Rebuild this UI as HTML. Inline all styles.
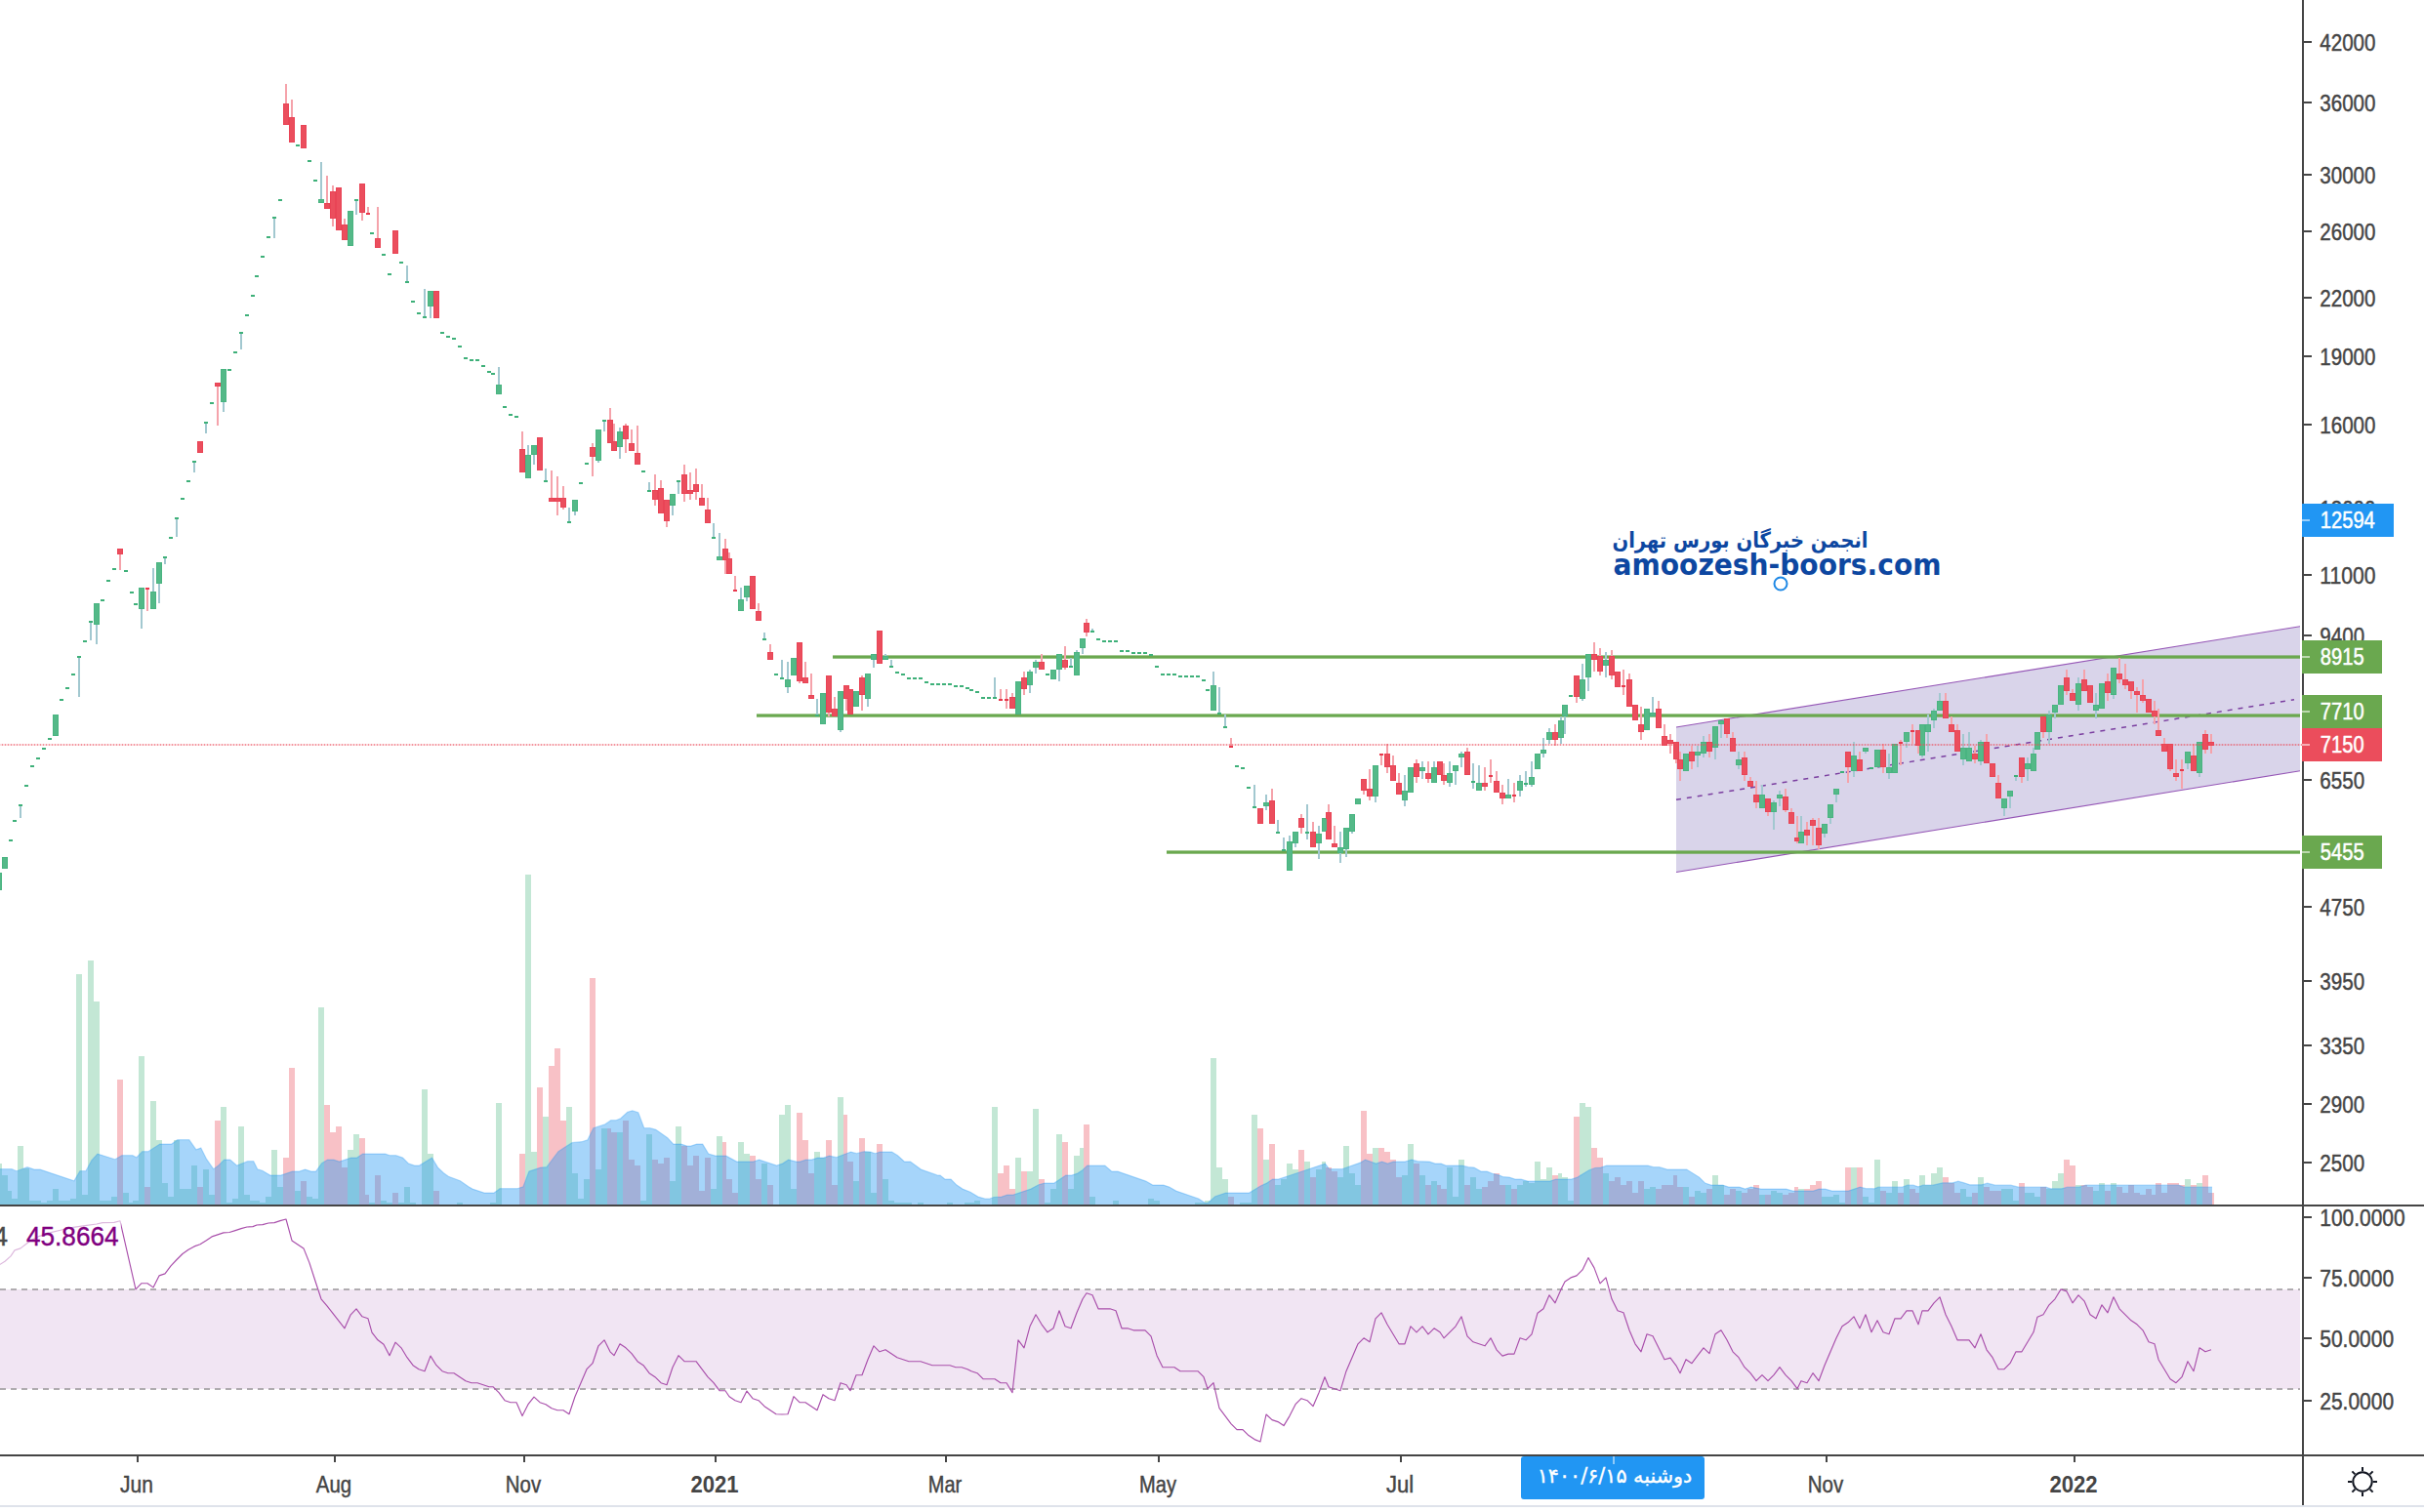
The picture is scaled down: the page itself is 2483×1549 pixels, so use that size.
<!DOCTYPE html>
<html lang="fa"><head><meta charset="utf-8"><title>chart</title>
<style>html,body{margin:0;padding:0;background:#fff}body{width:2483px;height:1549px;overflow:hidden}svg{display:block}text{font-family:"Liberation Sans","DejaVu Sans",sans-serif}.ar{font-family:"DejaVu Sans","Liberation Sans",sans-serif}</style></head><body>
<svg width="2483" height="1549" viewBox="0 0 2483 1549" shape-rendering="crispEdges">
<rect width="2483" height="1549" fill="#fff"/>
<path d="M-4 1234H2V1192H-4ZM2 1234H8V1204H2ZM8 1234H12V1220H8ZM12 1234H18V1228H12ZM18 1234H24V1174H18ZM24 1234H30V1197H24ZM30 1234H36V1230H30ZM36 1234H42V1230H36ZM42 1234H48V1232H42ZM48 1234H54V1230H48ZM54 1234H60V1218H54ZM60 1234H66V1230H60ZM66 1234H72V1230H66ZM72 1234H78V1228H72ZM78 1234H84V998H78ZM84 1234H90V1224H84ZM90 1234H96V984H90ZM96 1234H102V1026H96ZM102 1234H108V1230H102ZM108 1234H114V1230H108ZM114 1234H120V1226H114ZM126 1234H132V1222H126ZM132 1234H136V1232H132ZM136 1234H142V1230H136ZM142 1234H148V1082H142ZM154 1234H160V1128H154ZM160 1234H166V1168H160ZM166 1234H172V1212H166ZM172 1234H178V1226H172ZM178 1234H184V1168H178ZM184 1234H190V1218H184ZM190 1234H196V1218H190ZM196 1234H202V1194H196ZM208 1234H214V1198H208ZM214 1234H220V1224H214ZM226 1234H232V1134H226ZM232 1234H238V1232H232ZM238 1234H244V1228H238ZM244 1234H250V1154H244ZM250 1234H256V1224H250ZM256 1234H260V1230H256ZM260 1234H266V1230H260ZM266 1234H272V1232H266ZM272 1234H278V1226H272ZM278 1234H284V1178H278ZM284 1234H290V1216H284ZM302 1234H308V1220H302ZM314 1234H320V1226H314ZM320 1234H326V1228H320ZM326 1234H332V1032H326ZM356 1234H362V1178H356ZM362 1234H368V1162H362ZM378 1234H384V1232H378ZM390 1234H396V1230H390ZM396 1234H402V1232H396ZM408 1234H414V1232H408ZM414 1234H420V1216H414ZM420 1234H426V1232H420ZM432 1234H438V1116H432ZM438 1234H444V1182H438ZM468 1234H474V1232H468ZM502 1234H508V1232H502ZM508 1234H514V1130H508ZM538 1234H544V896H538ZM544 1234H550V1180H544ZM556 1234H562V1144H556ZM580 1234H586V1134H580ZM586 1234H592V1202H586ZM592 1234H598V1228H592ZM598 1234H604V1208H598ZM610 1234H616V1198H610ZM616 1234H622V1156H616ZM632 1234H638V1160H632ZM656 1234H662V1230H656ZM662 1234H668V1162H662ZM686 1234H692V1210H686ZM692 1234H698V1154H692ZM728 1234H734V1218H728ZM734 1234H740V1164H734ZM756 1234H762V1170H756ZM762 1234H768V1182H762ZM780 1234H786V1192H780ZM798 1234H804V1142H798ZM804 1234H810V1132H804ZM810 1234H816V1218H810ZM834 1234H840V1180H834ZM840 1234H846V1186H840ZM858 1234H864V1124H858ZM874 1234H880V1210H874ZM886 1234H892V1180H886ZM892 1234H898V1222H892ZM904 1234H910V1208H904ZM910 1234H916V1230H910ZM916 1234H922V1232H916ZM922 1234H928V1232H922ZM928 1234H934V1232H928ZM940 1234H946V1232H940ZM970 1234H976V1232H970ZM988 1234H992V1232H988ZM992 1234H998V1232H992ZM998 1234H1004V1230H998ZM1016 1234H1022V1134H1016ZM1040 1234H1046V1186H1040ZM1052 1234H1058V1200H1052ZM1058 1234H1064V1136H1058ZM1070 1234H1076V1232H1070ZM1076 1234H1082V1218H1076ZM1082 1234H1088V1162H1082ZM1094 1234H1100V1218H1094ZM1100 1234H1106V1184H1100ZM1106 1234H1110V1176H1106ZM1116 1234H1122V1226H1116ZM1140 1234H1146V1230H1140ZM1176 1234H1182V1228H1176ZM1182 1234H1188V1230H1182ZM1224 1234H1230V1232H1224ZM1230 1234H1234V1232H1230ZM1234 1234H1240V1230H1234ZM1240 1234H1246V1084H1240ZM1246 1234H1252V1196H1246ZM1252 1234H1258V1208H1252ZM1270 1234H1276V1232H1270ZM1276 1234H1282V1232H1276ZM1282 1234H1288V1142H1282ZM1294 1234H1300V1188H1294ZM1306 1234H1312V1214H1306ZM1312 1234H1318V1208H1312ZM1318 1234H1324V1192H1318ZM1324 1234H1330V1198H1324ZM1336 1234H1342V1190H1336ZM1348 1234H1354V1198H1348ZM1354 1234H1358V1190H1354ZM1370 1234H1376V1206H1370ZM1376 1234H1382V1174H1376ZM1382 1234H1388V1202H1382ZM1388 1234H1394V1214H1388ZM1406 1234H1412V1176H1406ZM1436 1234H1442V1204H1436ZM1442 1234H1448V1172H1442ZM1454 1234H1460V1204H1454ZM1466 1234H1472V1210H1466ZM1482 1234H1488V1196H1482ZM1488 1234H1494V1226H1488ZM1494 1234H1500V1188H1494ZM1506 1234H1512V1206H1506ZM1512 1234H1518V1218H1512ZM1542 1234H1548V1214H1542ZM1554 1234H1560V1214H1554ZM1560 1234H1566V1210H1560ZM1566 1234H1572V1212H1566ZM1572 1234H1578V1190H1572ZM1578 1234H1584V1208H1578ZM1584 1234H1590V1196H1584ZM1596 1234H1600V1202H1596ZM1600 1234H1606V1206H1600ZM1606 1234H1612V1230H1606ZM1618 1234H1624V1130H1618ZM1624 1234H1630V1134H1624ZM1642 1234H1648V1202H1642ZM1684 1234H1690V1218H1684ZM1690 1234H1696V1216H1690ZM1724 1234H1730V1216H1724ZM1736 1234H1742V1220H1736ZM1742 1234H1748V1222H1742ZM1754 1234H1760V1204H1754ZM1760 1234H1766V1214H1760ZM1778 1234H1784V1220H1778ZM1802 1234H1808V1224H1802ZM1814 1234H1820V1220H1814ZM1820 1234H1826V1222H1820ZM1842 1234H1848V1218H1842ZM1866 1234H1872V1226H1866ZM1872 1234H1878V1226H1872ZM1878 1234H1884V1224H1878ZM1884 1234H1890V1232H1884ZM1896 1234H1902V1196H1896ZM1908 1234H1914V1226H1908ZM1914 1234H1920V1232H1914ZM1920 1234H1926V1188H1920ZM1932 1234H1938V1222H1932ZM1938 1234H1944V1210H1938ZM1950 1234H1956V1208H1950ZM1966 1234H1972V1204H1966ZM1972 1234H1978V1214H1972ZM1978 1234H1984V1202H1978ZM1984 1234H1990V1196H1984ZM2008 1234H2014V1218H2008ZM2014 1234H2020V1226H2014ZM2026 1234H2032V1206H2026ZM2050 1234H2056V1218H2050ZM2056 1234H2062V1218H2056ZM2062 1234H2068V1230H2062ZM2074 1234H2080V1222H2074ZM2080 1234H2084V1222H2080ZM2084 1234H2090V1226H2084ZM2096 1234H2102V1218H2096ZM2102 1234H2108V1210H2102ZM2108 1234H2114V1202H2108ZM2126 1234H2132V1214H2126ZM2144 1234H2150V1220H2144ZM2150 1234H2156V1212H2150ZM2162 1234H2168V1212H2162ZM2238 1234H2244V1208H2238ZM2250 1234H2256V1212H2250Z" fill="#53b987" fill-opacity=".35"/>
<path d="M120 1234H126V1106H120ZM148 1234H154V1216H148ZM202 1234H208V1216H202ZM220 1234H226V1148H220ZM290 1234H296V1186H290ZM296 1234H302V1094H296ZM308 1234H314V1210H308ZM332 1234H338V1132H332ZM338 1234H344V1160H338ZM344 1234H350V1154H344ZM350 1234H356V1196H350ZM368 1234H374V1166H368ZM374 1234H378V1224H374ZM384 1234H390V1204H384ZM402 1234H408V1222H402ZM444 1234H450V1220H444ZM532 1234H538V1182H532ZM550 1234H556V1114H550ZM562 1234H568V1092H562ZM568 1234H574V1074H568ZM574 1234H580V1148H574ZM604 1234H610V1002H604ZM622 1234H626V1156H622ZM626 1234H632V1160H626ZM638 1234H644V1148H638ZM644 1234H650V1188H644ZM650 1234H656V1194H650ZM668 1234H674V1188H668ZM674 1234H680V1192H674ZM680 1234H686V1186H680ZM698 1234H704V1174H698ZM704 1234H710V1194H704ZM710 1234H716V1184H710ZM716 1234H722V1220H716ZM722 1234H728V1186H722ZM740 1234H744V1170H740ZM744 1234H750V1208H744ZM750 1234H756V1222H750ZM768 1234H774V1184H768ZM774 1234H780V1208H774ZM786 1234H792V1214H786ZM816 1234H822V1140H816ZM822 1234H828V1168H822ZM828 1234H834V1202H828ZM846 1234H852V1168H846ZM852 1234H858V1214H852ZM864 1234H868V1142H864ZM868 1234H874V1190H868ZM880 1234H886V1166H880ZM898 1234H904V1172H898ZM1022 1234H1028V1202H1022ZM1028 1234H1034V1194H1028ZM1034 1234H1040V1218H1034ZM1046 1234H1052V1200H1046ZM1064 1234H1070V1208H1064ZM1088 1234H1094V1170H1088ZM1110 1234H1116V1152H1110ZM1258 1234H1264V1226H1258ZM1288 1234H1294V1156H1288ZM1300 1234H1306V1172H1300ZM1330 1234H1336V1178H1330ZM1342 1234H1348V1206H1342ZM1358 1234H1364V1196H1358ZM1364 1234H1370V1200H1364ZM1394 1234H1400V1138H1394ZM1400 1234H1406V1182H1400ZM1412 1234H1418V1176H1412ZM1418 1234H1424V1180H1418ZM1424 1234H1430V1188H1424ZM1430 1234H1436V1206H1430ZM1448 1234H1454V1192H1448ZM1460 1234H1466V1214H1460ZM1472 1234H1476V1214H1472ZM1476 1234H1482V1218H1476ZM1500 1234H1506V1214H1500ZM1518 1234H1524V1216H1518ZM1524 1234H1530V1210H1524ZM1530 1234H1536V1202H1530ZM1536 1234H1542V1214H1536ZM1548 1234H1554V1218H1548ZM1590 1234H1596V1204H1590ZM1612 1234H1618V1144H1612ZM1630 1234H1636V1176H1630ZM1636 1234H1642V1186H1636ZM1648 1234H1654V1210H1648ZM1654 1234H1660V1206H1654ZM1660 1234H1666V1214H1660ZM1666 1234H1672V1210H1666ZM1672 1234H1678V1222H1672ZM1678 1234H1684V1210H1678ZM1696 1234H1702V1218H1696ZM1702 1234H1708V1214H1702ZM1708 1234H1714V1214H1708ZM1714 1234H1718V1204H1714ZM1718 1234H1724V1216H1718ZM1730 1234H1736V1226H1730ZM1748 1234H1754V1218H1748ZM1766 1234H1772V1224H1766ZM1772 1234H1778V1218H1772ZM1784 1234H1790V1222H1784ZM1790 1234H1796V1218H1790ZM1796 1234H1802V1214H1796ZM1808 1234H1814V1224H1808ZM1826 1234H1832V1224H1826ZM1832 1234H1838V1222H1832ZM1838 1234H1842V1216H1838ZM1848 1234H1854V1218H1848ZM1854 1234H1860V1214H1854ZM1860 1234H1866V1210H1860ZM1890 1234H1896V1196H1890ZM1902 1234H1908V1196H1902ZM1926 1234H1932V1220H1926ZM1944 1234H1950V1222H1944ZM1956 1234H1962V1218H1956ZM1962 1234H1966V1222H1962ZM1990 1234H1996V1206H1990ZM1996 1234H2002V1212H1996ZM2002 1234H2008V1222H2002ZM2020 1234H2026V1222H2020ZM2032 1234H2038V1216H2032ZM2038 1234H2044V1220H2038ZM2044 1234H2050V1220H2044ZM2068 1234H2074V1212H2068ZM2090 1234H2096V1216H2090ZM2114 1234H2120V1188H2114ZM2120 1234H2126V1194H2120ZM2132 1234H2138V1214H2132ZM2138 1234H2144V1216H2138ZM2156 1234H2162V1220H2156ZM2168 1234H2174V1216H2168ZM2174 1234H2180V1222H2174ZM2180 1234H2186V1214H2180ZM2186 1234H2192V1222H2186ZM2192 1234H2198V1224H2192ZM2198 1234H2204V1218H2198ZM2204 1234H2208V1224H2204ZM2208 1234H2214V1212H2208ZM2214 1234H2220V1222H2214ZM2220 1234H2226V1212H2220ZM2226 1234H2232V1212H2226ZM2232 1234H2238V1214H2232ZM2244 1234H2250V1214H2244ZM2256 1234H2262V1204H2256ZM2262 1234H2268V1222H2262Z" fill="#eb4d5c" fill-opacity=".35"/>
<path d="M0 1234L0 1197.7L12 1197.7L17 1199.7L28 1195.7L35 1198.1L41 1198.1L75.9 1209.7L81.9 1199.7L87.9 1199.7L93.9 1188.7L99.9 1182.1L117.9 1187.7L124.9 1183.7L135.8 1183.7L139.8 1185.7L145.8 1179.7L151.8 1179.7L163.8 1172.1L175.8 1172.1L181.8 1167.7L193.8 1167.7L200.8 1177.7L205.8 1176.1L211.7 1187.7L218.7 1197.7L223.7 1194.1L229.7 1188.1L235.7 1188.1L242.7 1194.1L253.7 1189.7L259.7 1189.7L263.7 1197.7L268.7 1199.3L276.7 1204.1L287.7 1204.1L299.6 1200.1L306.6 1200.1L312.6 1198.1L318.6 1200.1L323.6 1200.1L329.6 1191.7L335.6 1188.1L341.6 1188.1L347.6 1190.1L359.6 1186.1L365.6 1186.1L371.6 1182.1L394.5 1182.1L399.5 1183.7L405.5 1183.7L412.5 1186.1L418.5 1192.1L424.5 1194.1L429.5 1194.1L442.5 1186.1L448.5 1196.1L454.5 1201.7L459.4 1205.3L471.4 1209.7L480 1215.7L484 1218.1L496 1222.1L506 1222.1L512 1217.7L529.9 1217.7L535.9 1215.7L541.9 1200.1L553.9 1196.1L559.9 1195.7L571.9 1179.7L577.9 1175.7L585.9 1170.7L595.9 1169.7L601.9 1167.7L607.8 1155.7L619.8 1151.7L625.8 1147.7L630.8 1147.7L635.8 1145.7L642.8 1139.2L647.8 1137.8L653.8 1139.8L659.8 1155.7L665.8 1155.7L671.8 1157.3L683.8 1165.7L689.7 1172.1L697.7 1172.1L703.7 1174.1L707.7 1174.1L713.7 1172.1L719.7 1172.1L725.7 1182.1L732.7 1184.1L743.7 1184.1L754.7 1190.1L771.7 1190.1L777.6 1188.1L795.6 1194.1L801.6 1192.1L807.6 1188.1L815.6 1190.1L819.6 1190.1L825.6 1188.1L831.6 1188.1L837.6 1186.1L843.6 1186.1L849.6 1184.1L856.5 1185.7L871.5 1180.1L877.5 1181.7L885.5 1179.7L891.5 1180.1L896.5 1181.7L901.5 1180.1L913.5 1180.1L919.5 1183.7L926.5 1190.1L932.5 1190.1L943.4 1198.1L960 1203.9L963 1204.1L968 1208.1L974 1208.1L980 1214.1L986 1218.1L994 1221.3L1001.9 1226.1L1008.9 1228L1013.9 1228L1017.9 1226.5L1025.9 1226.1L1031.9 1224.1L1037.9 1224.1L1055.9 1218.1L1063.9 1213.7L1069.9 1212.1L1079.9 1212.1L1091.8 1204.1L1097.8 1204.1L1103.8 1202.1L1108.8 1198.7L1113.8 1194.1L1131.8 1194.1L1138.8 1200.1L1144.8 1200.1L1173.7 1210.1L1180.7 1214.1L1191.7 1214.1L1197.7 1216.1L1204.7 1220.1L1227.7 1228L1234.7 1232.6L1237.7 1232L1244.7 1225.7L1255.6 1222.1L1279.6 1222.1L1291.6 1214.7L1297.6 1212.1L1303.6 1208.1L1309.6 1208.1L1319.6 1204.7L1357.5 1192.1L1361.5 1197.7L1374.5 1197.7L1393.5 1191.1L1398.5 1188.1L1409.5 1192.1L1415.5 1190.1L1421.4 1192.1L1427.4 1190.1L1439.4 1190.1L1440 1189.7L1446 1188.1L1452 1189.7L1464 1190.1L1470 1192.1L1476 1192.1L1481 1194.1L1497.9 1194.1L1503.9 1195.7L1509.9 1196.1L1516.9 1200.1L1522.9 1200.1L1529.9 1202.7L1535.9 1204.1L1539.9 1205.7L1545.9 1206.1L1551.9 1208.1L1557.9 1208.1L1564.9 1210.1L1587.8 1210.1L1593.8 1208.1L1609.8 1208.1L1615.8 1206.1L1627.8 1198.7L1633.8 1196.5L1639.8 1196.1L1645.8 1194.1L1687.7 1194.1L1693.7 1195.7L1699.7 1195.7L1707.7 1198.1L1727.7 1198.1L1740.6 1206.1L1746.6 1212.1L1752.6 1214.1L1764.6 1214.1L1770.6 1216.1L1781.6 1216.1L1787.6 1218.1L1793.6 1216.1L1803.6 1218.1L1829.5 1218.1L1836.5 1220.1L1857.5 1220.1L1863.5 1218.1L1869.5 1218.1L1876.5 1220.1L1893.5 1220.1L1905.4 1216.1L1911.4 1217.7L1917.4 1217.7L1920 1217.8L1924 1216.2L1948 1216.2L1953.9 1214.2L1959.9 1214.2L1964.9 1215.8L1969.9 1214.2L1979.9 1214.2L1989.9 1211.8L1999.9 1211.8L2005.9 1210.2L2011.9 1211.8L2017.8 1213.8L2029.8 1213.8L2035.8 1212.2L2043.8 1214.2L2059.8 1214.2L2067.8 1216.2L2095.7 1216.2L2100.7 1217.8L2111.7 1217.8L2117.7 1216.2L2129.7 1216.2L2136.7 1214.2L2231.5 1214.2L2237.5 1216.2L2266 1216.2L2266 1234 Z" fill="#2196f3" fill-opacity=".4" shape-rendering="geometricPrecision"/>
<path d="M0 1197.7L12 1197.7L17 1199.7L28 1195.7L35 1198.1L41 1198.1L75.9 1209.7L81.9 1199.7L87.9 1199.7L93.9 1188.7L99.9 1182.1L117.9 1187.7L124.9 1183.7L135.8 1183.7L139.8 1185.7L145.8 1179.7L151.8 1179.7L163.8 1172.1L175.8 1172.1L181.8 1167.7L193.8 1167.7L200.8 1177.7L205.8 1176.1L211.7 1187.7L218.7 1197.7L223.7 1194.1L229.7 1188.1L235.7 1188.1L242.7 1194.1L253.7 1189.7L259.7 1189.7L263.7 1197.7L268.7 1199.3L276.7 1204.1L287.7 1204.1L299.6 1200.1L306.6 1200.1L312.6 1198.1L318.6 1200.1L323.6 1200.1L329.6 1191.7L335.6 1188.1L341.6 1188.1L347.6 1190.1L359.6 1186.1L365.6 1186.1L371.6 1182.1L394.5 1182.1L399.5 1183.7L405.5 1183.7L412.5 1186.1L418.5 1192.1L424.5 1194.1L429.5 1194.1L442.5 1186.1L448.5 1196.1L454.5 1201.7L459.4 1205.3L471.4 1209.7L480 1215.7L484 1218.1L496 1222.1L506 1222.1L512 1217.7L529.9 1217.7L535.9 1215.7L541.9 1200.1L553.9 1196.1L559.9 1195.7L571.9 1179.7L577.9 1175.7L585.9 1170.7L595.9 1169.7L601.9 1167.7L607.8 1155.7L619.8 1151.7L625.8 1147.7L630.8 1147.7L635.8 1145.7L642.8 1139.2L647.8 1137.8L653.8 1139.8L659.8 1155.7L665.8 1155.7L671.8 1157.3L683.8 1165.7L689.7 1172.1L697.7 1172.1L703.7 1174.1L707.7 1174.1L713.7 1172.1L719.7 1172.1L725.7 1182.1L732.7 1184.1L743.7 1184.1L754.7 1190.1L771.7 1190.1L777.6 1188.1L795.6 1194.1L801.6 1192.1L807.6 1188.1L815.6 1190.1L819.6 1190.1L825.6 1188.1L831.6 1188.1L837.6 1186.1L843.6 1186.1L849.6 1184.1L856.5 1185.7L871.5 1180.1L877.5 1181.7L885.5 1179.7L891.5 1180.1L896.5 1181.7L901.5 1180.1L913.5 1180.1L919.5 1183.7L926.5 1190.1L932.5 1190.1L943.4 1198.1L960 1203.9L963 1204.1L968 1208.1L974 1208.1L980 1214.1L986 1218.1L994 1221.3L1001.9 1226.1L1008.9 1228L1013.9 1228L1017.9 1226.5L1025.9 1226.1L1031.9 1224.1L1037.9 1224.1L1055.9 1218.1L1063.9 1213.7L1069.9 1212.1L1079.9 1212.1L1091.8 1204.1L1097.8 1204.1L1103.8 1202.1L1108.8 1198.7L1113.8 1194.1L1131.8 1194.1L1138.8 1200.1L1144.8 1200.1L1173.7 1210.1L1180.7 1214.1L1191.7 1214.1L1197.7 1216.1L1204.7 1220.1L1227.7 1228L1234.7 1232.6L1237.7 1232L1244.7 1225.7L1255.6 1222.1L1279.6 1222.1L1291.6 1214.7L1297.6 1212.1L1303.6 1208.1L1309.6 1208.1L1319.6 1204.7L1357.5 1192.1L1361.5 1197.7L1374.5 1197.7L1393.5 1191.1L1398.5 1188.1L1409.5 1192.1L1415.5 1190.1L1421.4 1192.1L1427.4 1190.1L1439.4 1190.1L1440 1189.7L1446 1188.1L1452 1189.7L1464 1190.1L1470 1192.1L1476 1192.1L1481 1194.1L1497.9 1194.1L1503.9 1195.7L1509.9 1196.1L1516.9 1200.1L1522.9 1200.1L1529.9 1202.7L1535.9 1204.1L1539.9 1205.7L1545.9 1206.1L1551.9 1208.1L1557.9 1208.1L1564.9 1210.1L1587.8 1210.1L1593.8 1208.1L1609.8 1208.1L1615.8 1206.1L1627.8 1198.7L1633.8 1196.5L1639.8 1196.1L1645.8 1194.1L1687.7 1194.1L1693.7 1195.7L1699.7 1195.7L1707.7 1198.1L1727.7 1198.1L1740.6 1206.1L1746.6 1212.1L1752.6 1214.1L1764.6 1214.1L1770.6 1216.1L1781.6 1216.1L1787.6 1218.1L1793.6 1216.1L1803.6 1218.1L1829.5 1218.1L1836.5 1220.1L1857.5 1220.1L1863.5 1218.1L1869.5 1218.1L1876.5 1220.1L1893.5 1220.1L1905.4 1216.1L1911.4 1217.7L1917.4 1217.7L1920 1217.8L1924 1216.2L1948 1216.2L1953.9 1214.2L1959.9 1214.2L1964.9 1215.8L1969.9 1214.2L1979.9 1214.2L1989.9 1211.8L1999.9 1211.8L2005.9 1210.2L2011.9 1211.8L2017.8 1213.8L2029.8 1213.8L2035.8 1212.2L2043.8 1214.2L2059.8 1214.2L2067.8 1216.2L2095.7 1216.2L2100.7 1217.8L2111.7 1217.8L2117.7 1216.2L2129.7 1216.2L2136.7 1214.2L2231.5 1214.2L2237.5 1216.2L2266 1216.2" fill="none" stroke="#2196f3" stroke-opacity=".3" stroke-width="1.2" shape-rendering="geometricPrecision"/>
<g shape-rendering="geometricPrecision">
<path d="M1717 745L2356 641.7V789.7L1717 893.5Z" fill="#d9d4ea"/>
<path d="M1717 745L2356 641.7M1717 893.5L2356 789.7" stroke="#9556b6" stroke-width="1.1" fill="none"/>
<path d="M1717 819.3L2350 716.8" stroke="#7b3fa0" stroke-width="1.5" stroke-dasharray="5 6" fill="none"/>
</g>
<g shape-rendering="geometricPrecision" fill="#6aa84f"><rect x="853" y="671.4" width="1503" height="3.3"/><rect x="775" y="731.4" width="1581" height="3.3"/><rect x="1195" y="871.4" width="1161" height="3.3"/></g>
<path d="M20 826h2V838h-2ZM80 674h2V714h-2ZM92 638h2V656h-2ZM98 640h2V660h-2ZM144 624h2V644h-2ZM156 582h2V606h-2ZM162 598h2V618h-2ZM168 572h2V578h-2ZM180 532h2V550h-2ZM198 474h2V484h-2ZM210 434h2V444h-2ZM228 412h2V422h-2ZM246 342h2V358h-2ZM280 224h2V244h-2ZM328 166h2V204h-2ZM364 206h2V220h-2ZM416 272h2V288h-2ZM434 296h2V324h-2ZM440 314h2V326h-2ZM510 376h2V394h-2ZM540 456h2V466h-2ZM546 466h2V476h-2ZM558 480h2V492h-2ZM582 520h2V534h-2ZM588 524h2V528h-2ZM612 472h2V474h-2ZM618 432h2V442h-2ZM634 438h2V442h-2ZM634 458h2V470h-2ZM664 494h2V502h-2ZM688 518h2V528h-2ZM694 494h2V506h-2ZM730 536h2V550h-2ZM736 546h2V570h-2ZM758 602h2V614h-2ZM764 612h2V616h-2ZM782 648h2V654h-2ZM800 676h2V694h-2ZM806 678h2V696h-2ZM806 704h2V710h-2ZM836 716h2V732h-2ZM860 748h2V750h-2ZM888 716h2V724h-2ZM894 676h2V684h-2ZM906 670h2V672h-2ZM912 676h2V682h-2ZM1018 694h2V714h-2ZM1054 686h2V688h-2ZM1054 702h2V710h-2ZM1060 676h2V678h-2ZM1060 684h2V690h-2ZM1084 686h2V698h-2ZM1096 674h2V682h-2ZM1102 666h2V668h-2ZM1108 664h2V670h-2ZM1118 644h2V646h-2ZM1242 688h2V702h-2ZM1248 704h2V730h-2ZM1254 732h2V744h-2ZM1284 804h2V826h-2ZM1296 814h2V822h-2ZM1296 826h2V830h-2ZM1308 840h2V852h-2ZM1314 858h2V870h-2ZM1320 856h2V862h-2ZM1326 864h2V868h-2ZM1338 824h2V852h-2ZM1338 854h2V860h-2ZM1350 846h2V854h-2ZM1350 864h2V880h-2ZM1372 852h2V868h-2ZM1372 874h2V884h-2ZM1378 870h2V878h-2ZM1384 852h2V854h-2ZM1408 816h2V822h-2ZM1438 794h2V810h-2ZM1438 820h2V826h-2ZM1456 780h2V786h-2ZM1456 790h2V798h-2ZM1468 780h2V786h-2ZM1484 780h2V792h-2ZM1484 802h2V806h-2ZM1490 790h2V804h-2ZM1496 770h2V772h-2ZM1496 776h2V786h-2ZM1508 782h2V800h-2ZM1508 802h2V808h-2ZM1514 784h2V802h-2ZM1544 798h2V814h-2ZM1556 794h2V800h-2ZM1556 810h2V816h-2ZM1562 790h2V802h-2ZM1562 804h2V806h-2ZM1568 780h2V796h-2ZM1568 804h2V806h-2ZM1580 756h2V768h-2ZM1580 772h2V776h-2ZM1586 746h2V750h-2ZM1586 758h2V762h-2ZM1598 734h2V738h-2ZM1598 756h2V762h-2ZM1602 734h2V752h-2ZM1620 680h2V696h-2ZM1620 716h2V718h-2ZM1626 694h2V708h-2ZM1644 668h2V676h-2ZM1644 682h2V694h-2ZM1692 714h2V730h-2ZM1738 764h2V770h-2ZM1738 774h2V786h-2ZM1744 754h2V760h-2ZM1744 772h2V776h-2ZM1756 766h2V778h-2ZM1762 742h2V756h-2ZM1780 770h2V778h-2ZM1780 784h2V788h-2ZM1804 804h2V814h-2ZM1816 820h2V822h-2ZM1816 832h2V850h-2ZM1822 810h2V814h-2ZM1822 818h2V826h-2ZM1844 836h2V852h-2ZM1868 854h2V858h-2ZM1874 838h2V844h-2ZM1880 814h2V822h-2ZM1898 760h2V774h-2ZM1898 790h2V796h-2ZM1910 770h2V772h-2ZM1934 772h2V786h-2ZM1934 792h2V798h-2ZM1952 760h2V766h-2ZM1968 774h2V776h-2ZM1974 732h2V742h-2ZM1974 750h2V770h-2ZM1980 726h2V728h-2ZM1980 738h2V746h-2ZM1986 710h2V718h-2ZM2010 752h2V766h-2ZM2010 778h2V784h-2ZM2016 750h2V766h-2ZM2028 758h2V760h-2ZM2028 780h2V784h-2ZM2052 828h2V836h-2ZM2058 816h2V828h-2ZM2064 796h2V800h-2ZM2076 776h2V782h-2ZM2076 788h2V800h-2ZM2082 766h2V772h-2ZM2098 728h2V732h-2ZM2098 750h2V762h-2ZM2104 730h2V736h-2ZM2128 694h2V700h-2ZM2128 722h2V728h-2ZM2146 710h2V722h-2ZM2146 728h2V736h-2ZM2164 712h2V716h-2ZM2240 782h2V788h-2ZM2252 792h2V796h-2Z" fill="#a2c8d0"/>
<path d="M122 568h2V584h-2ZM150 604h2V626h-2ZM222 396h2V436h-2ZM292 86h2V106h-2ZM298 102h2V120h-2ZM334 180h2V208h-2ZM340 190h2V196h-2ZM340 224h2V232h-2ZM352 224h2V230h-2ZM370 218h2V226h-2ZM376 212h2V218h-2ZM386 212h2V244h-2ZM534 442h2V460h-2ZM564 482h2V510h-2ZM570 488h2V510h-2ZM570 514h2V528h-2ZM576 498h2V510h-2ZM576 520h2V522h-2ZM606 454h2V458h-2ZM606 468h2V488h-2ZM624 418h2V430h-2ZM628 434h2V452h-2ZM640 434h2V436h-2ZM640 450h2V464h-2ZM646 440h2V454h-2ZM652 436h2V464h-2ZM670 486h2V502h-2ZM670 512h2V518h-2ZM676 492h2V500h-2ZM682 534h2V540h-2ZM700 476h2V486h-2ZM700 506h2V514h-2ZM706 484h2V502h-2ZM706 506h2V512h-2ZM712 480h2V496h-2ZM712 504h2V512h-2ZM718 496h2V510h-2ZM724 510h2V522h-2ZM742 552h2V562h-2ZM742 574h2V588h-2ZM746 566h2V572h-2ZM752 590h2V604h-2ZM776 618h2V626h-2ZM788 660h2V668h-2ZM818 698h2V700h-2ZM824 678h2V694h-2ZM830 690h2V712h-2ZM848 730h2V734h-2ZM854 714h2V726h-2ZM866 716h2V728h-2ZM882 692h2V694h-2ZM882 712h2V728h-2ZM1024 706h2V716h-2ZM1030 706h2V716h-2ZM1030 718h2V726h-2ZM1036 710h2V714h-2ZM1048 688h2V694h-2ZM1048 706h2V712h-2ZM1066 670h2V678h-2ZM1090 662h2V676h-2ZM1090 684h2V686h-2ZM1112 634h2V638h-2ZM1112 648h2V652h-2ZM1260 756h2V764h-2ZM1302 808h2V820h-2ZM1332 834h2V838h-2ZM1332 848h2V854h-2ZM1344 842h2V852h-2ZM1360 824h2V832h-2ZM1366 846h2V864h-2ZM1396 810h2V814h-2ZM1402 788h2V808h-2ZM1402 816h2V820h-2ZM1414 774h2V784h-2ZM1420 762h2V772h-2ZM1420 786h2V792h-2ZM1426 774h2V784h-2ZM1432 792h2V802h-2ZM1450 778h2V782h-2ZM1450 796h2V802h-2ZM1462 780h2V792h-2ZM1462 798h2V802h-2ZM1478 782h2V794h-2ZM1478 800h2V804h-2ZM1502 766h2V770h-2ZM1520 786h2V802h-2ZM1520 806h2V810h-2ZM1526 778h2V794h-2ZM1526 796h2V802h-2ZM1532 790h2V800h-2ZM1538 804h2V812h-2ZM1538 818h2V824h-2ZM1550 802h2V814h-2ZM1550 816h2V822h-2ZM1592 742h2V750h-2ZM1592 758h2V764h-2ZM1614 714h2V720h-2ZM1632 658h2V670h-2ZM1632 676h2V688h-2ZM1638 664h2V672h-2ZM1638 688h2V692h-2ZM1650 666h2V672h-2ZM1650 692h2V696h-2ZM1662 686h2V702h-2ZM1662 704h2V712h-2ZM1668 690h2V696h-2ZM1680 724h2V742h-2ZM1680 750h2V758h-2ZM1698 718h2V726h-2ZM1704 742h2V754h-2ZM1710 752h2V758h-2ZM1710 762h2V772h-2ZM1716 778h2V782h-2ZM1720 770h2V778h-2ZM1720 788h2V800h-2ZM1732 764h2V770h-2ZM1732 780h2V788h-2ZM1750 752h2V760h-2ZM1750 770h2V776h-2ZM1768 752h2V756h-2ZM1774 750h2V756h-2ZM1786 770h2V776h-2ZM1786 794h2V800h-2ZM1792 796h2V800h-2ZM1798 800h2V814h-2ZM1798 822h2V828h-2ZM1810 832h2V836h-2ZM1828 808h2V816h-2ZM1828 830h2V832h-2ZM1834 828h2V832h-2ZM1840 836h2V858h-2ZM1840 862h2V864h-2ZM1850 842h2V850h-2ZM1850 856h2V866h-2ZM1856 838h2V840h-2ZM1856 846h2V866h-2ZM1862 838h2V848h-2ZM1862 866h2V870h-2ZM1892 786h2V802h-2ZM1904 770h2V778h-2ZM1928 762h2V768h-2ZM1928 786h2V792h-2ZM1946 758h2V760h-2ZM1946 762h2V784h-2ZM1958 742h2V748h-2ZM1958 750h2V762h-2ZM1964 764h2V772h-2ZM1992 710h2V718h-2ZM1998 734h2V742h-2ZM2004 742h2V748h-2ZM2022 764h2V772h-2ZM2022 778h2V782h-2ZM2034 752h2V760h-2ZM2046 794h2V802h-2ZM2070 796h2V802h-2ZM2092 750h2V756h-2ZM2116 686h2V694h-2ZM2116 708h2V712h-2ZM2122 706h2V710h-2ZM2134 686h2V696h-2ZM2158 690h2V698h-2ZM2158 710h2V718h-2ZM2170 674h2V690h-2ZM2170 696h2V700h-2ZM2176 680h2V696h-2ZM2176 702h2V706h-2ZM2182 708h2V716h-2ZM2188 704h2V708h-2ZM2188 712h2V730h-2ZM2194 696h2V712h-2ZM2194 718h2V720h-2ZM2206 718h2V728h-2ZM2206 734h2V742h-2ZM2210 726h2V748h-2ZM2216 756h2V762h-2ZM2222 788h2V790h-2ZM2228 778h2V792h-2ZM2228 796h2V800h-2ZM2234 778h2V788h-2ZM2234 790h2V808h-2ZM2246 762h2V774h-2ZM2258 748h2V752h-2ZM2258 768h2V772h-2ZM2264 752h2V760h-2ZM2264 764h2V772h-2Z" fill="#f5a3ab"/>
<path d="M-4 894h6V912h-6ZM2 878h6V890h-6ZM54 732h6V754h-6ZM96 618h6V640h-6ZM142 602h6V624h-6ZM154 606h6V624h-6ZM160 576h6V598h-6ZM226 378h6V412h-6ZM326 204h6V208h-6ZM356 216h6V252h-6ZM438 298h6V314h-6ZM508 394h6V404h-6ZM538 466h6V490h-6ZM544 456h6V466h-6ZM586 512h6V524h-6ZM610 440h6V472h-6ZM632 442h6V458h-6ZM686 506h6V518h-6ZM734 570h6V574h-6ZM756 614h6V626h-6ZM762 600h6V612h-6ZM804 696h6V704h-6ZM810 674h6V692h-6ZM840 710h6V742h-6ZM858 708h6V748h-6ZM874 708h6V724h-6ZM886 690h6V716h-6ZM892 670h6V676h-6ZM904 672h6V676h-6ZM1040 698h6V732h-6ZM1052 688h6V702h-6ZM1058 678h6V684h-6ZM1076 686h6V696h-6ZM1082 670h6V686h-6ZM1100 668h6V692h-6ZM1106 654h6V664h-6ZM1240 702h6V728h-6ZM1294 822h6V826h-6ZM1318 862h6V892h-6ZM1324 852h6V864h-6ZM1348 854h6V864h-6ZM1354 838h6V852h-6ZM1370 868h6V874h-6ZM1376 848h6V870h-6ZM1382 834h6V852h-6ZM1388 818h6V824h-6ZM1406 784h6V816h-6ZM1436 810h6V820h-6ZM1442 786h6V812h-6ZM1454 786h6V790h-6ZM1466 786h6V802h-6ZM1482 792h6V802h-6ZM1488 784h6V790h-6ZM1494 772h6V776h-6ZM1512 802h6V810h-6ZM1542 814h6V818h-6ZM1554 800h6V810h-6ZM1566 796h6V804h-6ZM1572 772h6V788h-6ZM1578 768h6V772h-6ZM1584 750h6V758h-6ZM1596 738h6V756h-6ZM1600 722h6V734h-6ZM1618 696h6V716h-6ZM1624 670h6V694h-6ZM1642 676h6V682h-6ZM1684 726h6V748h-6ZM1690 730h6V734h-6ZM1724 772h6V790h-6ZM1736 770h6V774h-6ZM1742 760h6V772h-6ZM1754 744h6V766h-6ZM1760 738h6V742h-6ZM1778 778h6V784h-6ZM1802 814h6V828h-6ZM1814 822h6V832h-6ZM1820 814h6V818h-6ZM1842 852h6V864h-6ZM1866 844h6V854h-6ZM1872 824h6V838h-6ZM1878 808h6V814h-6ZM1896 774h6V790h-6ZM1908 766h6V770h-6ZM1920 768h6V786h-6ZM1932 786h6V792h-6ZM1938 762h6V792h-6ZM1950 750h6V760h-6ZM1966 742h6V774h-6ZM1972 742h6V750h-6ZM1978 728h6V738h-6ZM1984 718h6V728h-6ZM2008 766h6V778h-6ZM2014 766h6V780h-6ZM2026 760h6V780h-6ZM2050 818h6V828h-6ZM2056 810h6V816h-6ZM2074 782h6V788h-6ZM2080 772h6V790h-6ZM2084 750h6V768h-6ZM2096 732h6V750h-6ZM2102 722h6V730h-6ZM2108 702h6V722h-6ZM2126 700h6V722h-6ZM2144 722h6V728h-6ZM2150 700h6V726h-6ZM2162 684h6V712h-6ZM2238 770h6V782h-6ZM2250 760h6V792h-6Z" fill="#49b481"/>
<path d="M120 562h6V568h-6ZM202 452h6V464h-6ZM220 392h6V396h-6ZM290 106h6V128h-6ZM296 120h6V146h-6ZM308 128h6V152h-6ZM332 208h6V214h-6ZM338 196h6V224h-6ZM344 192h6V236h-6ZM350 230h6V246h-6ZM368 188h6V218h-6ZM384 244h6V254h-6ZM402 236h6V260h-6ZM444 298h6V326h-6ZM532 460h6V484h-6ZM550 448h6V482h-6ZM562 510h6V514h-6ZM568 510h6V514h-6ZM574 510h6V520h-6ZM604 458h6V468h-6ZM622 430h6V454h-6ZM626 452h6V462h-6ZM638 436h6V450h-6ZM644 454h6V462h-6ZM650 464h6V476h-6ZM668 502h6V512h-6ZM674 500h6V526h-6ZM680 512h6V534h-6ZM698 486h6V506h-6ZM704 502h6V506h-6ZM710 496h6V504h-6ZM716 510h6V518h-6ZM722 522h6V536h-6ZM740 562h6V574h-6ZM744 572h6V588h-6ZM768 590h6V624h-6ZM774 626h6V636h-6ZM786 668h6V676h-6ZM816 658h6V698h-6ZM822 694h6V700h-6ZM828 712h6V716h-6ZM846 692h6V730h-6ZM852 726h6V734h-6ZM864 702h6V716h-6ZM868 706h6V732h-6ZM880 694h6V712h-6ZM898 646h6V680h-6ZM1034 714h6V726h-6ZM1046 694h6V706h-6ZM1064 678h6V686h-6ZM1088 676h6V684h-6ZM1110 638h6V648h-6ZM1288 828h6V844h-6ZM1300 820h6V844h-6ZM1330 838h6V848h-6ZM1342 852h6V868h-6ZM1358 832h6V860h-6ZM1364 864h6V868h-6ZM1394 798h6V810h-6ZM1400 808h6V816h-6ZM1418 772h6V786h-6ZM1424 784h6V800h-6ZM1430 802h6V814h-6ZM1448 782h6V796h-6ZM1460 792h6V798h-6ZM1472 780h6V794h-6ZM1476 794h6V800h-6ZM1500 770h6V794h-6ZM1518 802h6V806h-6ZM1530 800h6V812h-6ZM1536 812h6V818h-6ZM1590 750h6V758h-6ZM1612 692h6V714h-6ZM1630 670h6V676h-6ZM1636 672h6V688h-6ZM1648 672h6V692h-6ZM1654 688h6V704h-6ZM1666 696h6V724h-6ZM1672 722h6V738h-6ZM1678 742h6V750h-6ZM1696 726h6V746h-6ZM1702 754h6V764h-6ZM1708 758h6V762h-6ZM1714 760h6V778h-6ZM1718 778h6V788h-6ZM1730 770h6V780h-6ZM1748 760h6V770h-6ZM1766 736h6V752h-6ZM1772 756h6V770h-6ZM1784 776h6V794h-6ZM1790 800h6V806h-6ZM1796 814h6V822h-6ZM1808 818h6V832h-6ZM1826 816h6V830h-6ZM1832 832h6V844h-6ZM1838 858h6V862h-6ZM1848 850h6V856h-6ZM1854 840h6V846h-6ZM1860 848h6V866h-6ZM1890 770h6V786h-6ZM1902 778h6V790h-6ZM1926 768h6V786h-6ZM1962 748h6V764h-6ZM1990 718h6V736h-6ZM1996 742h6V750h-6ZM2002 748h6V770h-6ZM2020 772h6V778h-6ZM2032 760h6V782h-6ZM2038 782h6V796h-6ZM2044 802h6V818h-6ZM2068 776h6V796h-6ZM2090 734h6V750h-6ZM2114 694h6V708h-6ZM2120 710h6V718h-6ZM2132 696h6V708h-6ZM2138 702h6V720h-6ZM2156 698h6V710h-6ZM2168 690h6V696h-6ZM2174 696h6V702h-6ZM2180 698h6V708h-6ZM2186 708h6V712h-6ZM2192 712h6V718h-6ZM2198 716h6V730h-6ZM2204 728h6V734h-6ZM2208 748h6V754h-6ZM2214 762h6V770h-6ZM2220 762h6V788h-6ZM2226 792h6V796h-6ZM2244 774h6V790h-6ZM2256 752h6V768h-6ZM2262 760h6V764h-6Z" fill="#e94456"/>
<path d="M-3 895h4V911h-4ZM3 879h4V889h-4ZM55 733h4V753h-4ZM97 619h4V639h-4ZM143 603h4V623h-4ZM155 607h4V623h-4ZM161 577h4V597h-4ZM227 379h4V411h-4ZM327 205h4V207h-4ZM357 217h4V251h-4ZM439 299h4V313h-4ZM509 395h4V403h-4ZM539 467h4V489h-4ZM545 457h4V465h-4ZM587 513h4V523h-4ZM611 441h4V471h-4ZM633 443h4V457h-4ZM687 507h4V517h-4ZM735 571h4V573h-4ZM757 615h4V625h-4ZM763 601h4V611h-4ZM805 697h4V703h-4ZM811 675h4V691h-4ZM841 711h4V741h-4ZM859 709h4V747h-4ZM875 709h4V723h-4ZM887 691h4V715h-4ZM893 671h4V675h-4ZM905 673h4V675h-4ZM1041 699h4V731h-4ZM1053 689h4V701h-4ZM1059 679h4V683h-4ZM1077 687h4V695h-4ZM1083 671h4V685h-4ZM1101 669h4V691h-4ZM1107 655h4V663h-4ZM1241 703h4V727h-4ZM1295 823h4V825h-4ZM1319 863h4V891h-4ZM1325 853h4V863h-4ZM1349 855h4V863h-4ZM1355 839h4V851h-4ZM1371 869h4V873h-4ZM1377 849h4V869h-4ZM1383 835h4V851h-4ZM1389 819h4V823h-4ZM1407 785h4V815h-4ZM1437 811h4V819h-4ZM1443 787h4V811h-4ZM1455 787h4V789h-4ZM1467 787h4V801h-4ZM1483 793h4V801h-4ZM1489 785h4V789h-4ZM1495 773h4V775h-4ZM1513 803h4V809h-4ZM1543 815h4V817h-4ZM1555 801h4V809h-4ZM1567 797h4V803h-4ZM1573 773h4V787h-4ZM1579 769h4V771h-4ZM1585 751h4V757h-4ZM1597 739h4V755h-4ZM1601 723h4V733h-4ZM1619 697h4V715h-4ZM1625 671h4V693h-4ZM1643 677h4V681h-4ZM1685 727h4V747h-4ZM1691 731h4V733h-4ZM1725 773h4V789h-4ZM1737 771h4V773h-4ZM1743 761h4V771h-4ZM1755 745h4V765h-4ZM1761 739h4V741h-4ZM1779 779h4V783h-4ZM1803 815h4V827h-4ZM1815 823h4V831h-4ZM1821 815h4V817h-4ZM1843 853h4V863h-4ZM1867 845h4V853h-4ZM1873 825h4V837h-4ZM1879 809h4V813h-4ZM1897 775h4V789h-4ZM1909 767h4V769h-4ZM1921 769h4V785h-4ZM1933 787h4V791h-4ZM1939 763h4V791h-4ZM1951 751h4V759h-4ZM1967 743h4V773h-4ZM1973 743h4V749h-4ZM1979 729h4V737h-4ZM1985 719h4V727h-4ZM2009 767h4V777h-4ZM2015 767h4V779h-4ZM2027 761h4V779h-4ZM2051 819h4V827h-4ZM2057 811h4V815h-4ZM2075 783h4V787h-4ZM2081 773h4V789h-4ZM2085 751h4V767h-4ZM2097 733h4V749h-4ZM2103 723h4V729h-4ZM2109 703h4V721h-4ZM2127 701h4V721h-4ZM2145 723h4V727h-4ZM2151 701h4V725h-4ZM2163 685h4V711h-4ZM2239 771h4V781h-4ZM2251 761h4V791h-4Z" fill="#54b988"/>
<path d="M121 563h4V567h-4ZM203 453h4V463h-4ZM221 393h4V395h-4ZM291 107h4V127h-4ZM297 121h4V145h-4ZM309 129h4V151h-4ZM333 209h4V213h-4ZM339 197h4V223h-4ZM345 193h4V235h-4ZM351 231h4V245h-4ZM369 189h4V217h-4ZM385 245h4V253h-4ZM403 237h4V259h-4ZM445 299h4V325h-4ZM533 461h4V483h-4ZM551 449h4V481h-4ZM563 511h4V513h-4ZM569 511h4V513h-4ZM575 511h4V519h-4ZM605 459h4V467h-4ZM623 431h4V453h-4ZM627 453h4V461h-4ZM639 437h4V449h-4ZM645 455h4V461h-4ZM651 465h4V475h-4ZM669 503h4V511h-4ZM675 501h4V525h-4ZM681 513h4V533h-4ZM699 487h4V505h-4ZM705 503h4V505h-4ZM711 497h4V503h-4ZM717 511h4V517h-4ZM723 523h4V535h-4ZM741 563h4V573h-4ZM745 573h4V587h-4ZM769 591h4V623h-4ZM775 627h4V635h-4ZM787 669h4V675h-4ZM817 659h4V697h-4ZM823 695h4V699h-4ZM829 713h4V715h-4ZM847 693h4V729h-4ZM853 727h4V733h-4ZM865 703h4V715h-4ZM869 707h4V731h-4ZM881 695h4V711h-4ZM899 647h4V679h-4ZM1035 715h4V725h-4ZM1047 695h4V705h-4ZM1065 679h4V685h-4ZM1089 677h4V683h-4ZM1111 639h4V647h-4ZM1289 829h4V843h-4ZM1301 821h4V843h-4ZM1331 839h4V847h-4ZM1343 853h4V867h-4ZM1359 833h4V859h-4ZM1365 865h4V867h-4ZM1395 799h4V809h-4ZM1401 809h4V815h-4ZM1419 773h4V785h-4ZM1425 785h4V799h-4ZM1431 803h4V813h-4ZM1449 783h4V795h-4ZM1461 793h4V797h-4ZM1473 781h4V793h-4ZM1477 795h4V799h-4ZM1501 771h4V793h-4ZM1519 803h4V805h-4ZM1531 801h4V811h-4ZM1537 813h4V817h-4ZM1591 751h4V757h-4ZM1613 693h4V713h-4ZM1631 671h4V675h-4ZM1637 673h4V687h-4ZM1649 673h4V691h-4ZM1655 689h4V703h-4ZM1667 697h4V723h-4ZM1673 723h4V737h-4ZM1679 743h4V749h-4ZM1697 727h4V745h-4ZM1703 755h4V763h-4ZM1709 759h4V761h-4ZM1715 761h4V777h-4ZM1719 779h4V787h-4ZM1731 771h4V779h-4ZM1749 761h4V769h-4ZM1767 737h4V751h-4ZM1773 757h4V769h-4ZM1785 777h4V793h-4ZM1791 801h4V805h-4ZM1797 815h4V821h-4ZM1809 819h4V831h-4ZM1827 817h4V829h-4ZM1833 833h4V843h-4ZM1839 859h4V861h-4ZM1849 851h4V855h-4ZM1855 841h4V845h-4ZM1861 849h4V865h-4ZM1891 771h4V785h-4ZM1903 779h4V789h-4ZM1927 769h4V785h-4ZM1963 749h4V763h-4ZM1991 719h4V735h-4ZM1997 743h4V749h-4ZM2003 749h4V769h-4ZM2021 773h4V777h-4ZM2033 761h4V781h-4ZM2039 783h4V795h-4ZM2045 803h4V817h-4ZM2069 777h4V795h-4ZM2091 735h4V749h-4ZM2115 695h4V707h-4ZM2121 711h4V717h-4ZM2133 697h4V707h-4ZM2139 703h4V719h-4ZM2157 699h4V709h-4ZM2169 691h4V695h-4ZM2175 697h4V701h-4ZM2181 699h4V707h-4ZM2187 709h4V711h-4ZM2193 713h4V717h-4ZM2199 717h4V729h-4ZM2205 729h4V733h-4ZM2209 749h4V753h-4ZM2215 763h4V769h-4ZM2221 763h4V787h-4ZM2227 793h4V795h-4ZM2245 775h4V789h-4ZM2257 753h4V767h-4ZM2263 761h4V763h-4Z" fill="#eb4e5d"/>
<path d="M9 860h4v2h-4ZM13 840h4v2h-4ZM19 824h4v2h-4ZM25 804h4v2h-4ZM31 784h4v2h-4ZM37 776h4v2h-4ZM43 766h4v2h-4ZM49 756h4v2h-4ZM61 716h4v2h-4ZM67 704h4v2h-4ZM73 690h4v2h-4ZM79 672h4v2h-4ZM85 656h4v2h-4ZM91 636h4v2h-4ZM103 614h4v2h-4ZM109 594h4v2h-4ZM115 582h4v2h-4ZM127 584h4v2h-4ZM133 606h4v2h-4ZM137 618h4v2h-4ZM167 570h4v2h-4ZM173 550h4v2h-4ZM179 530h4v2h-4ZM185 510h4v2h-4ZM191 492h4v2h-4ZM197 472h4v2h-4ZM209 432h4v2h-4ZM215 412h4v2h-4ZM233 378h4v2h-4ZM239 360h4v2h-4ZM245 340h4v2h-4ZM251 322h4v2h-4ZM257 302h4v2h-4ZM261 282h4v2h-4ZM267 262h4v2h-4ZM273 242h4v2h-4ZM279 222h4v2h-4ZM285 204h4v2h-4ZM303 148h4v2h-4ZM315 164h4v2h-4ZM321 184h4v2h-4ZM363 204h4v2h-4ZM379 238h4v2h-4ZM391 260h4v2h-4ZM397 280h4v2h-4ZM409 268h4v2h-4ZM415 288h4v2h-4ZM421 308h4v2h-4ZM427 320h4v2h-4ZM433 324h4v2h-4ZM451 340h4v2h-4ZM457 344h4v2h-4ZM463 346h4v2h-4ZM469 354h4v2h-4ZM475 366h4v2h-4ZM481 368h4v2h-4ZM487 368h4v2h-4ZM493 374h4v2h-4ZM499 380h4v2h-4ZM503 382h4v2h-4ZM515 416h4v2h-4ZM521 424h4v2h-4ZM527 426h4v2h-4ZM557 492h4v2h-4ZM581 534h4v2h-4ZM593 494h4v2h-4ZM599 474h4v2h-4ZM617 430h4v2h-4ZM657 482h4v2h-4ZM663 502h4v2h-4ZM693 492h4v2h-4ZM729 550h4v2h-4ZM781 654h4v2h-4ZM793 690h4v2h-4ZM799 694h4v2h-4ZM835 732h4v2h-4ZM911 682h4v2h-4ZM917 688h4v2h-4ZM923 690h4v2h-4ZM929 694h4v2h-4ZM935 694h4v2h-4ZM941 694h4v2h-4ZM947 698h4v2h-4ZM953 700h4v2h-4ZM959 700h4v2h-4ZM965 700h4v2h-4ZM971 700h4v2h-4ZM977 702h4v2h-4ZM983 702h4v2h-4ZM989 704h4v2h-4ZM993 706h4v2h-4ZM999 708h4v2h-4ZM1005 714h4v2h-4ZM1011 714h4v2h-4ZM1017 714h4v2h-4ZM1071 690h4v2h-4ZM1095 682h4v2h-4ZM1117 646h4v2h-4ZM1123 654h4v2h-4ZM1129 656h4v2h-4ZM1135 656h4v2h-4ZM1141 656h4v2h-4ZM1147 666h4v2h-4ZM1153 666h4v2h-4ZM1159 668h4v2h-4ZM1165 668h4v2h-4ZM1171 668h4v2h-4ZM1177 670h4v2h-4ZM1183 682h4v2h-4ZM1189 690h4v2h-4ZM1195 690h4v2h-4ZM1201 690h4v2h-4ZM1207 692h4v2h-4ZM1213 692h4v2h-4ZM1219 692h4v2h-4ZM1225 692h4v2h-4ZM1231 696h4v2h-4ZM1235 706h4v2h-4ZM1247 730h4v2h-4ZM1253 744h4v2h-4ZM1265 784h4v2h-4ZM1271 786h4v2h-4ZM1277 806h4v2h-4ZM1283 826h4v2h-4ZM1307 852h4v2h-4ZM1313 870h4v2h-4ZM1337 852h4v2h-4ZM1507 800h4v2h-4ZM1561 802h4v2h-4ZM1607 712h4v2h-4ZM1885 790h4v2h-4ZM1915 786h4v2h-4ZM2063 794h4v2h-4Z" fill="#3eb079"/>
<path d="M149 602h4v2h-4ZM375 218h4v2h-4ZM751 604h4v2h-4ZM1023 716h4v2h-4ZM1029 716h4v2h-4ZM1259 764h4v2h-4ZM1413 772h4v2h-4ZM1525 794h4v2h-4ZM1549 814h4v2h-4ZM1661 702h4v2h-4ZM1945 760h4v2h-4ZM1957 748h4v2h-4ZM2233 788h4v2h-4Z" fill="#e8384c"/>
<rect x="0" y="762" width="2358" height="2" fill="#eb4d5c" fill-opacity=".2"/>
<path d="M-1 763H2358" stroke="#eb4d5c" stroke-opacity=".5" stroke-width="2" stroke-dasharray="1 2"/>
<g shape-rendering="geometricPrecision" fill="#0d47a1">
<text class="ar" x="1782.5" y="560.5" font-size="22" font-weight="bold" text-anchor="middle" direction="rtl" textLength="262" lengthAdjust="spacingAndGlyphs">انجمن خبرگان بورس تهران</text>
<text x="1652.5" y="589.3" font-size="30" font-weight="bold" class="ar" textLength="336" lengthAdjust="spacingAndGlyphs">amoozesh-boors.com</text>
<circle cx="1824" cy="598" r="6.5" fill="#fff" stroke="#1e88e5" stroke-width="2"/>
</g>
<rect x="0" y="1321" width="2356" height="102" fill="#f1e5f3"/>
<path d="M0 1321H2356M0 1423H2356" stroke="#b0acb0" stroke-width="2" stroke-dasharray="6 5"/>
<path d="M-1 1295.9L5 1292.3L11 1286.9L15 1280.9L21 1278.9L27 1274.3L33 1269.9L39 1266.9L51 1262.9L63 1260L75 1257.4L87 1255.6L99 1254L105 1252.6L117 1252.4L123 1250.8L139 1320.9L145 1314.7L151 1314.7L157 1318.9L163 1306.9L169 1304.9L175 1296.9L181 1290.5L187 1284.5L193 1280.3L199 1276.9L205 1274.7L211 1270.9L217 1266.9L223 1264.9L229 1262.9L235 1262.5L241 1260.6L247 1258.6L253 1257L259 1256.6L263 1255L269 1254.6L275 1253L281 1252.6L287 1250.6L293 1249L299 1270.9L305 1274.9L311 1278.9L317 1293.9L323 1312.5L329 1330.8L335 1337.8L353 1360.8L359 1347.2L365 1340.8L371 1348.8L377 1350.8L381 1365.2L387 1372.8L393 1377.2L399 1388.7L405 1375.2L411 1380.8L417 1390.7L423 1398.7L429 1402.7L435 1404.7L441 1389.1L447 1398.7L453 1404.7L459 1406.7L465 1406.7L471 1410.7L477 1414.7L483 1416.7L489 1416.7L495 1418.7L501 1420.7L505 1420.7L511 1426.7L517 1434.7L523 1436.7L529 1436.7L535 1450.6L541 1438.7L547 1431.1L553 1436.7L559 1438.7L565 1442.7L571 1444.7L577 1444.7L583 1448.7L589 1430.7L595 1416.7L601 1402.7L607 1396.7L613 1378.8L619 1372.8L625 1384.8L629 1388.7L635 1376.8L641 1380.8L647 1386.7L653 1394.7L659 1398.7L665 1406.7L671 1410.7L677 1416.7L683 1418.7L689 1400.7L695 1388.7L701 1394.7L707 1394.7L713 1394.7L719 1402.7L725 1410.7L731 1416.7L737 1424.7L743 1424.7L747 1430.7L753 1434.7L759 1436.7L765 1425.1L771 1432.7L777 1434.7L783 1440.7L789 1444.7L795 1448.7L801 1449L807 1448.7L813 1430.7L819 1436.7L825 1436.7L831 1440.7L837 1444.7L843 1428.7L849 1432.7L855 1434.7L861 1416.7L867 1418.7L871 1424.7L877 1408.7L883 1408.7L889 1392.7L895 1378.8L901 1384.8L907 1382.8L913 1386.7L919 1390.7L925 1392.7L931 1394.7L937 1394.7L943 1394.7L949 1396.7L955 1398.7L961 1398.7L967 1398.7L973 1398.7L979 1400.7L985 1400.7L991 1402.7L995 1404.7L1001 1406.7L1007 1412.7L1013 1412.7L1019 1412.7L1025 1416.7L1031 1416.7L1037 1426.7L1043 1372.8L1049 1380.8L1055 1358.8L1061 1346.8L1067 1356.8L1073 1364.8L1079 1360.8L1085 1342.8L1091 1358.8L1097 1360.8L1103 1344.8L1109 1330.8L1113 1324.8L1119 1326.8L1125 1340.8L1131 1340.8L1137 1340.8L1143 1342.8L1149 1360.8L1155 1360.8L1161 1362.8L1167 1362.8L1173 1362.8L1179 1368.8L1185 1388.7L1191 1400.7L1197 1400.7L1203 1400.7L1209 1404.7L1215 1404.7L1221 1404.7L1227 1404.7L1233 1410.7L1237 1422.7L1243 1416.7L1249 1442.7L1255 1450.6L1261 1458.6L1267 1464.6L1273 1464.6L1279 1470.6L1285 1474.6L1291 1477L1297 1449L1303 1454.6L1309 1456.6L1315 1460.6L1321 1450.6L1327 1438.7L1333 1432.7L1339 1434.7L1345 1440.7L1351 1426.7L1357 1410.7L1361 1420.7L1367 1422.7L1373 1424.7L1379 1404.7L1385 1390.7L1391 1376.8L1397 1370.8L1403 1374.8L1409 1350.8L1415 1344.8L1421 1356.8L1427 1366.8L1433 1376.8L1439 1376.8L1445 1358.8L1451 1364.8L1457 1358.8L1463 1366.8L1469 1360.8L1475 1364.8L1479 1370.8L1485 1364.8L1491 1358.8L1497 1348.8L1503 1368.8L1509 1374.8L1515 1376.8L1521 1378.8L1527 1370.8L1533 1382.8L1539 1389.1L1545 1387.1L1551 1387.1L1557 1370.8L1563 1372.8L1569 1366.8L1575 1345.2L1581 1340.8L1587 1326.8L1593 1334.8L1599 1320.9L1603 1312.9L1609 1308.9L1615 1306.9L1621 1300.9L1627 1288.5L1633 1298.9L1639 1314.9L1645 1308.9L1651 1330.8L1657 1342.8L1663 1344.8L1669 1362.8L1675 1376.8L1681 1384.8L1687 1366.8L1693 1368.8L1699 1380.8L1705 1392.7L1711 1391.1L1717 1399.1L1721 1406.7L1727 1392.7L1733 1396.7L1739 1388.7L1745 1380.8L1751 1386.7L1757 1366.8L1763 1362.8L1769 1372.8L1775 1384.8L1781 1390.7L1787 1400.7L1793 1406.7L1799 1414.7L1805 1408.7L1811 1414.7L1817 1408.7L1823 1400.7L1829 1408.7L1835 1414.7L1841 1422.7L1845 1414.7L1851 1416.7L1857 1406.7L1863 1414.7L1869 1398.7L1875 1384.8L1881 1370.8L1887 1358.8L1893 1354.8L1899 1348.8L1905 1360.8L1911 1346.8L1917 1364.8L1923 1352.8L1929 1364.8L1935 1366.8L1941 1350.8L1947 1350.8L1953 1342.8L1959 1342.8L1965 1356.8L1969 1342.8L1975 1342.8L1981 1334.8L1987 1328.8L1993 1346.8L1999 1358.8L2005 1372.8L2011 1372.8L2017 1372.8L2023 1380.8L2029 1366.8L2035 1382.8L2041 1390.7L2047 1402.7L2053 1402.7L2059 1396.7L2065 1384.8L2071 1384.8L2077 1374.8L2083 1364.8L2087 1349.2L2093 1346.8L2099 1336.8L2105 1330.8L2111 1320.9L2117 1322.9L2123 1334.8L2129 1326.8L2135 1332.8L2141 1346.8L2147 1350.8L2153 1336.8L2159 1344.8L2165 1328.8L2171 1340.8L2177 1346.8L2183 1352.8L2189 1356.8L2195 1362.8L2201 1374.8L2207 1376.8L2211 1392.7L2217 1402.7L2223 1412.7L2229 1416.7L2235 1410.7L2241 1394.7L2247 1404.7L2253 1380.8L2259 1384.8L2265 1382.8" fill="none" stroke="#a94fab" stroke-width="1.15" stroke-linejoin="round" shape-rendering="geometricPrecision"/>
<rect x="0" y="1238" width="124" height="64" fill="#fff" fill-opacity=".6"/>
<g shape-rendering="geometricPrecision">
<text x="-7" y="1276.3" font-size="27" fill="#4a4a4a" stroke="#4a4a4a" stroke-width=".4">4</text>
<text x="27" y="1276.3" font-size="27" fill="#800080" stroke="#800080" stroke-width=".4" textLength="94.5" lengthAdjust="spacingAndGlyphs">45.8664</text>
</g>
<rect x="0" y="1234" width="2483" height="2" fill="#454545"/>
<rect x="0" y="1490" width="2483" height="2" fill="#454545"/>
<rect x="2358" y="0" width="2" height="1542" fill="#454545"/>
<rect x="0" y="1542" width="2483" height="2" fill="#dfe3eb"/>
<g shape-rendering="geometricPrecision" fill="#454545" stroke="#454545" stroke-width=".45" font-size="23.5">
<rect x="2360" y="42" width="8" height="2" stroke="none" shape-rendering="crispEdges"/>
<text x="2376.3" y="52" textLength="57.2" lengthAdjust="spacingAndGlyphs">42000</text>
<rect x="2360" y="104" width="8" height="2" stroke="none" shape-rendering="crispEdges"/>
<text x="2376.3" y="114" textLength="57.2" lengthAdjust="spacingAndGlyphs">36000</text>
<rect x="2360" y="178" width="8" height="2" stroke="none" shape-rendering="crispEdges"/>
<text x="2376.3" y="188" textLength="57.2" lengthAdjust="spacingAndGlyphs">30000</text>
<rect x="2360" y="236" width="8" height="2" stroke="none" shape-rendering="crispEdges"/>
<text x="2376.3" y="246" textLength="57.2" lengthAdjust="spacingAndGlyphs">26000</text>
<rect x="2360" y="304" width="8" height="2" stroke="none" shape-rendering="crispEdges"/>
<text x="2376.3" y="314" textLength="57.2" lengthAdjust="spacingAndGlyphs">22000</text>
<rect x="2360" y="364" width="8" height="2" stroke="none" shape-rendering="crispEdges"/>
<text x="2376.3" y="374" textLength="57.2" lengthAdjust="spacingAndGlyphs">19000</text>
<rect x="2360" y="434" width="8" height="2" stroke="none" shape-rendering="crispEdges"/>
<text x="2376.3" y="444" textLength="57.2" lengthAdjust="spacingAndGlyphs">16000</text>
<rect x="2360" y="520" width="8" height="2" stroke="none" shape-rendering="crispEdges"/>
<text x="2376.3" y="530" textLength="57.2" lengthAdjust="spacingAndGlyphs">13000</text>
<rect x="2360" y="588" width="8" height="2" stroke="none" shape-rendering="crispEdges"/>
<text x="2376.3" y="598" textLength="57.2" lengthAdjust="spacingAndGlyphs">11000</text>
<rect x="2360" y="650" width="8" height="2" stroke="none" shape-rendering="crispEdges"/>
<text x="2376.3" y="660" textLength="45.8" lengthAdjust="spacingAndGlyphs">9400</text>
<rect x="2360" y="798" width="8" height="2" stroke="none" shape-rendering="crispEdges"/>
<text x="2376.3" y="808" textLength="45.8" lengthAdjust="spacingAndGlyphs">6550</text>
<rect x="2360" y="928" width="8" height="2" stroke="none" shape-rendering="crispEdges"/>
<text x="2376.3" y="938" textLength="45.8" lengthAdjust="spacingAndGlyphs">4750</text>
<rect x="2360" y="1004" width="8" height="2" stroke="none" shape-rendering="crispEdges"/>
<text x="2376.3" y="1014" textLength="45.8" lengthAdjust="spacingAndGlyphs">3950</text>
<rect x="2360" y="1070" width="8" height="2" stroke="none" shape-rendering="crispEdges"/>
<text x="2376.3" y="1080" textLength="45.8" lengthAdjust="spacingAndGlyphs">3350</text>
<rect x="2360" y="1130" width="8" height="2" stroke="none" shape-rendering="crispEdges"/>
<text x="2376.3" y="1140" textLength="45.8" lengthAdjust="spacingAndGlyphs">2900</text>
<rect x="2360" y="1190" width="8" height="2" stroke="none" shape-rendering="crispEdges"/>
<text x="2376.3" y="1200" textLength="45.8" lengthAdjust="spacingAndGlyphs">2500</text>
<rect x="2360" y="1246" width="8" height="2" stroke="none" shape-rendering="crispEdges"/>
<text x="2376.3" y="1256" textLength="87.3" lengthAdjust="spacingAndGlyphs">100.0000</text>
<rect x="2360" y="1308" width="8" height="2" stroke="none" shape-rendering="crispEdges"/>
<text x="2376.3" y="1318" textLength="75.8" lengthAdjust="spacingAndGlyphs">75.0000</text>
<rect x="2360" y="1370" width="8" height="2" stroke="none" shape-rendering="crispEdges"/>
<text x="2376.3" y="1380" textLength="75.8" lengthAdjust="spacingAndGlyphs">50.0000</text>
<rect x="2360" y="1434" width="8" height="2" stroke="none" shape-rendering="crispEdges"/>
<text x="2376.3" y="1444" textLength="75.8" lengthAdjust="spacingAndGlyphs">25.0000</text>
</g>
<rect x="2358" y="516" width="94" height="34" fill="#2196f3"/>
<rect x="2358" y="532" width="8" height="2" fill="#fff" fill-opacity=".55"/>
<text x="2376.8" y="541" font-size="23.5" fill="#fff" stroke="#fff" stroke-width=".5" textLength="56" lengthAdjust="spacingAndGlyphs" shape-rendering="geometricPrecision">12594</text>
<rect x="2358" y="656" width="82" height="34" fill="#6aa84f"/>
<rect x="2358" y="672" width="8" height="2" fill="#fff" fill-opacity=".55"/>
<text x="2376.8" y="681" font-size="23.5" fill="#fff" stroke="#fff" stroke-width=".5" textLength="44.8" lengthAdjust="spacingAndGlyphs" shape-rendering="geometricPrecision">8915</text>
<rect x="2358" y="712" width="82" height="34" fill="#6aa84f"/>
<rect x="2358" y="728" width="8" height="2" fill="#fff" fill-opacity=".55"/>
<text x="2376.8" y="737" font-size="23.5" fill="#fff" stroke="#fff" stroke-width=".5" textLength="44.8" lengthAdjust="spacingAndGlyphs" shape-rendering="geometricPrecision">7710</text>
<rect x="2358" y="746" width="82" height="34" fill="#eb4d5c"/>
<rect x="2358" y="762" width="8" height="2" fill="#fff" fill-opacity=".55"/>
<text x="2376.8" y="771" font-size="23.5" fill="#fff" stroke="#fff" stroke-width=".5" textLength="44.8" lengthAdjust="spacingAndGlyphs" shape-rendering="geometricPrecision">7150</text>
<rect x="2358" y="856" width="82" height="34" fill="#6aa84f"/>
<rect x="2358" y="872" width="8" height="2" fill="#fff" fill-opacity=".55"/>
<text x="2376.8" y="881" font-size="23.5" fill="#fff" stroke="#fff" stroke-width=".5" textLength="44.8" lengthAdjust="spacingAndGlyphs" shape-rendering="geometricPrecision">5455</text>
<g shape-rendering="geometricPrecision" fill="#454545" stroke="#454545" stroke-width=".45" font-size="23.5" text-anchor="middle">
<rect x="140" y="1492" width="2" height="6" stroke="none" shape-rendering="crispEdges"/>
<text x="140" y="1528.5" textLength="33.8" lengthAdjust="spacingAndGlyphs">Jun</text>
<rect x="342" y="1492" width="2" height="6" stroke="none" shape-rendering="crispEdges"/>
<text x="342" y="1528.5" textLength="36.3" lengthAdjust="spacingAndGlyphs">Aug</text>
<rect x="536" y="1492" width="2" height="6" stroke="none" shape-rendering="crispEdges"/>
<text x="536" y="1528.5" textLength="36.3" lengthAdjust="spacingAndGlyphs">Nov</text>
<rect x="732" y="1492" width="2" height="6" stroke="none" shape-rendering="crispEdges"/>
<text x="732" y="1528.5" font-weight="bold" stroke="none" textLength="49.1" lengthAdjust="spacingAndGlyphs">2021</text>
<rect x="968" y="1492" width="2" height="6" stroke="none" shape-rendering="crispEdges"/>
<text x="968" y="1528.5" textLength="34.3" lengthAdjust="spacingAndGlyphs">Mar</text>
<rect x="1186" y="1492" width="2" height="6" stroke="none" shape-rendering="crispEdges"/>
<text x="1186" y="1528.5" textLength="37.9" lengthAdjust="spacingAndGlyphs">May</text>
<rect x="1434" y="1492" width="2" height="6" stroke="none" shape-rendering="crispEdges"/>
<text x="1434" y="1528.5" textLength="28.2" lengthAdjust="spacingAndGlyphs">Jul</text>
<rect x="1870" y="1492" width="2" height="6" stroke="none" shape-rendering="crispEdges"/>
<text x="1870" y="1528.5" textLength="36.4" lengthAdjust="spacingAndGlyphs">Nov</text>
<rect x="2124" y="1492" width="2" height="6" stroke="none" shape-rendering="crispEdges"/>
<text x="2124" y="1528.5" font-weight="bold" stroke="none" textLength="49.2" lengthAdjust="spacingAndGlyphs">2022</text>
</g>
<rect x="1558" y="1492" width="188" height="44" rx="3" fill="#2196f3" shape-rendering="geometricPrecision"/>
<rect x="1652" y="1492" width="2" height="8" fill="#90caf9"/>
<text class="ar" x="1654" y="1519" font-size="20.5" fill="#fff" stroke="#fff" stroke-width=".35" text-anchor="middle" direction="rtl" textLength="158.5" lengthAdjust="spacingAndGlyphs" shape-rendering="geometricPrecision">دوشنبه ۱۴۰۰/۶/۱۵</text>
<g shape-rendering="geometricPrecision" stroke="#131722" stroke-width="2" fill="none" stroke-linecap="butt">
<circle cx="2420" cy="1518" r="9.7"/>
<path d="M2430.7 1518L2435 1518"/>
<path d="M2427.6 1525.6L2430.6 1528.6"/>
<path d="M2420 1528.7L2420 1533"/>
<path d="M2412.4 1525.6L2409.4 1528.6"/>
<path d="M2409.3 1518L2405 1518"/>
<path d="M2412.4 1510.4L2409.4 1507.4"/>
<path d="M2420 1507.3L2420 1503"/>
<path d="M2427.6 1510.4L2430.6 1507.4"/>
</g>
</svg></body></html>
